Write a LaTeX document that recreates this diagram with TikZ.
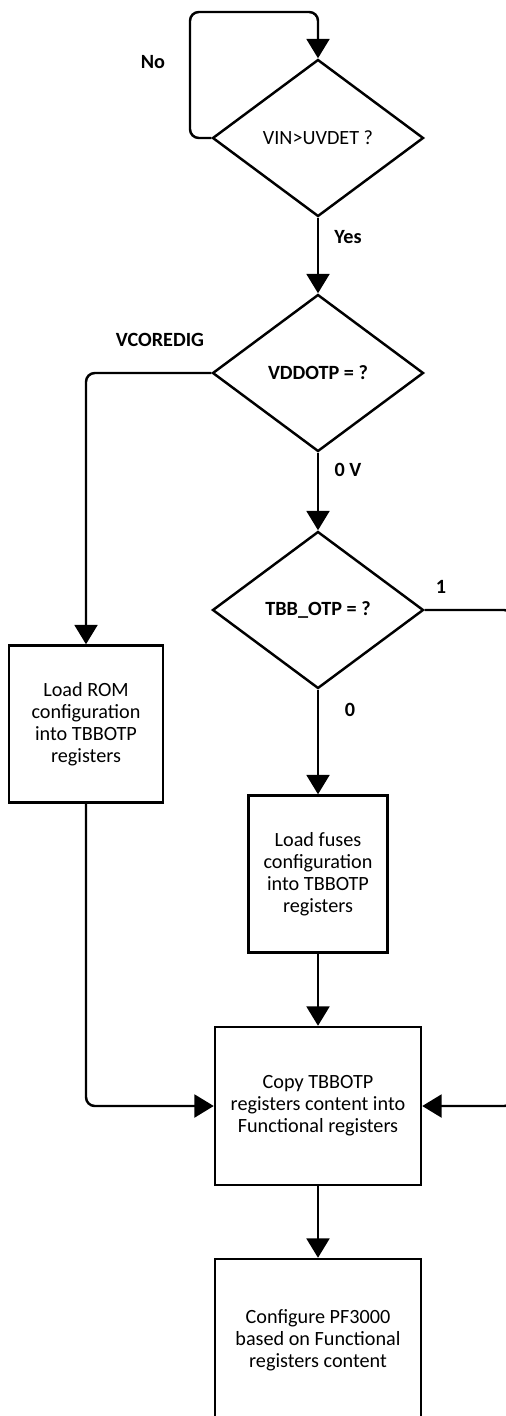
\documentclass[tikz,border=0pt]{standalone}
\usepackage{fontspec}
\setmainfont{Carlito}
\usetikzlibrary{shapes,shapes.geometric,arrows.meta,calc,positioning}
\newcommand{\pxu}{0.02cm}

\begin{document}
\begin{tikzpicture}[x=\pxu,y=-\pxu,
	  every node/.style={align=center,font=\fontsize{11.5}{12.5}\selectfont},
	  decision/.style={diamond,draw,line width=1.4pt,inner sep=0pt,minimum width=211*\pxu,minimum height=157*\pxu},
	  process/.style={rectangle,draw,line width=1.4pt,inner sep=2pt},
	  tag/.style={font=\fontsize{11.5}{12.5}\selectfont\bfseries},
	  flow/.style={-{Triangle[length=11pt,width=13pt]},line width=1.4pt},
	  elbow/.style={flow,rounded corners=5pt}]

	  \useasboundingbox (0,0) rectangle (506,1416);
	  \clip (0,0) rectangle (506,1416);

	  % Position the nodes at pixel coordinates
	  \node[decision] (uvdet) at (318,138) {VIN>UVDET ?};
	  \node[decision,font=\fontsize{11.5}{12.5}\selectfont\bfseries] (vddotp) at (318,373) {VDDOTP = ?};
	  \node[decision,font=\fontsize{11.5}{12.5}\selectfont\bfseries] (tbbotp) at (318,610) {TBB\_OTP = ?};
	  \node[process,minimum width=154*\pxu,minimum height=157*\pxu] (loadrom) at (86,724) {Load ROM\\configuration\\into TBBOTP\\registers};
	  \node[process,minimum width=139*\pxu,minimum height=157*\pxu] (loadfuses) at (318,874) {Load fuses\\configuration\\into TBBOTP\\registers};
	  \node[process,minimum width=206*\pxu,minimum height=158*\pxu] (copyregs) at (318,1106) {Copy TBBOTP\\registers content into\\Functional registers};
	  \node[process,minimum width=206*\pxu,minimum height=162*\pxu] (configure) at (318,1340) {Configure PF3000\\based on Functional\\registers content};

	  \node[tag] (no) at (153,62) {No};
	  \node[tag] (yes) at (348,237) {Yes};
	  \node[tag] (vcoredig) at (160,340) {VCOREDIG};
	  \node[tag] (zerov) at (348,470) {0 V};
	  \node[tag] (one) at (441,587) {1};
	  \node[tag] (zero) at (350,710) {0};

	  \coordinate (loopa) at (190,138);
	  \coordinate (loopb) at (190,12);
	  \coordinate (loopc) at (318,12);
	  \coordinate (romturn) at (86,373);
	  \coordinate (rightup) at (513,610);
	  \coordinate (rightdown) at (513,1106);
	  \coordinate (romdown) at (86,1106);

	  \draw[elbow] (uvdet.west) -- (loopa) -- (loopb) -- (loopc) -- (uvdet.north);
	  \draw[flow] (uvdet.south) -- (vddotp.north);
	  \draw[elbow] (vddotp.west) -- (romturn) -- (loadrom.north);
	  \draw[flow] (vddotp.south) -- (tbbotp.north);
	  \draw[flow] (tbbotp.south) -- (loadfuses.north);
	  \draw[elbow] (tbbotp.east) -- (rightup) -- (rightdown) -- (copyregs.east);
	  \draw[elbow] (loadrom.south) -- (romdown) -- (copyregs.west);
	  \draw[flow] (loadfuses.south) -- (copyregs.north);
	  \draw[flow] (copyregs.south) -- (configure.north);

\end{tikzpicture}
\end{document}
